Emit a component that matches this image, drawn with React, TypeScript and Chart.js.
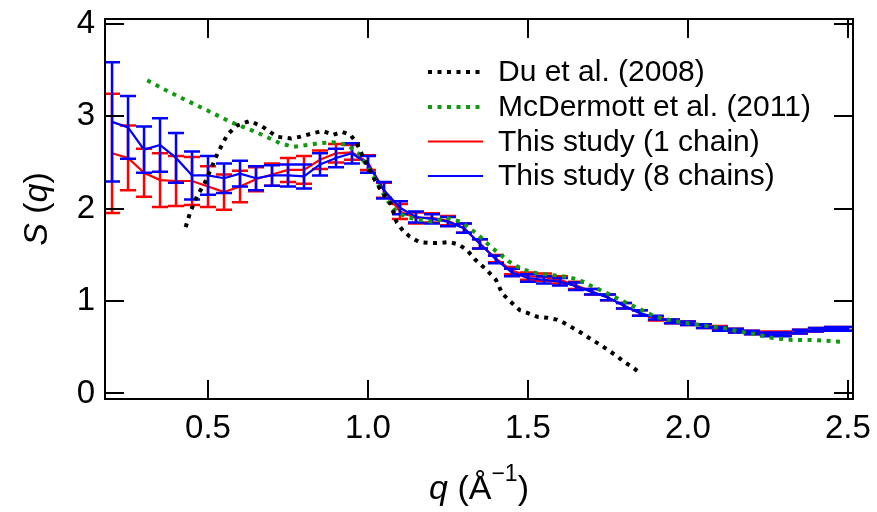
import React, { useEffect, useRef } from "react";
import { Chart, registerables } from "chart.js";

Chart.register(...registerables);

const FONT = '"Liberation Sans", Arial, sans-serif';

// Du et al. (2008)
const duQ = [0.43, 0.445, 0.465, 0.49, 0.53, 0.56, 0.59, 0.63, 0.67, 0.715, 0.76, 0.79, 0.83, 0.86, 0.89, 0.92, 0.945, 0.965, 0.99, 1.015, 1.04, 1.07, 1.09, 1.11, 1.13, 1.16, 1.19, 1.225, 1.255, 1.285, 1.31, 1.335, 1.37, 1.40, 1.42, 1.45, 1.475, 1.50, 1.53, 1.56, 1.59, 1.615, 1.64, 1.67, 1.70, 1.725, 1.75, 1.78, 1.80, 1.825, 1.85];
const duS = [1.80, 1.97, 2.13, 2.28, 2.60, 2.80, 2.90, 2.95, 2.89, 2.78, 2.76, 2.78, 2.82, 2.84, 2.80, 2.83, 2.80, 2.71, 2.52, 2.35, 2.20, 2.06, 1.85, 1.76, 1.70, 1.64, 1.63, 1.63, 1.64, 1.61, 1.55, 1.45, 1.34, 1.23, 1.08, 0.98, 0.90, 0.87, 0.83, 0.82, 0.80, 0.76, 0.71, 0.65, 0.58, 0.53, 0.47, 0.40, 0.34, 0.29, 0.22];

// McDermott et al. (2011)
const mcQ = [0.31, 0.37, 0.44, 0.50, 0.57, 0.65, 0.725, 0.765, 0.81, 0.85, 0.89, 0.935, 0.97, 1.00, 1.03, 1.06, 1.085, 1.12, 1.16, 1.20, 1.245, 1.29, 1.34, 1.39, 1.44, 1.485, 1.53, 1.58, 1.625, 1.66, 1.70, 1.745, 1.79, 1.845, 1.90, 1.95, 2.00, 2.06, 2.11, 2.16, 2.215, 2.265, 2.325, 2.38, 2.43, 2.48];
const mcS = [3.39, 3.28, 3.16, 3.06, 2.94, 2.83, 2.71, 2.67, 2.69, 2.71, 2.72, 2.69, 2.60, 2.45, 2.27, 2.09, 1.98, 1.91, 1.88, 1.86, 1.90, 1.86, 1.73, 1.57, 1.43, 1.34, 1.30, 1.28, 1.26, 1.23, 1.16, 1.09, 1.01, 0.92, 0.83, 0.79, 0.76, 0.73, 0.71, 0.67, 0.64, 0.60, 0.58, 0.58, 0.57, 0.56];

// This study
const studyQ = [0.20, 0.25, 0.30, 0.35, 0.40, 0.45, 0.50, 0.55, 0.60, 0.65, 0.70, 0.75, 0.80, 0.85, 0.90, 0.95, 1.00, 1.05, 1.10, 1.15, 1.20, 1.25, 1.30, 1.35, 1.40, 1.45, 1.50, 1.55, 1.60, 1.65, 1.70, 1.75, 1.80, 1.85, 1.90, 1.95, 2.00, 2.05, 2.10, 2.15, 2.20, 2.25, 2.30, 2.35, 2.40, 2.45, 2.50];
const oneChainS = [2.60, 2.55, 2.39, 2.31, 2.30, 2.30, 2.24, 2.18, 2.24, 2.32, 2.37, 2.42, 2.42, 2.53, 2.60, 2.61, 2.50, 2.20, 1.97, 1.90, 1.90, 1.87, 1.79, 1.62, 1.46, 1.33, 1.27, 1.26, 1.23, 1.17, 1.10, 1.04, 0.95, 0.87, 0.81, 0.78, 0.76, 0.73, 0.71, 0.68, 0.66, 0.65, 0.65, 0.67, 0.69, 0.70, 0.70];
const oneChainErr = [0.645, 0.35, 0.26, 0.29, 0.27, 0.26, 0.22, 0.19, 0.17, 0.13, 0.12, 0.13, 0.15, 0.10, 0.10, 0.08, 0.08, 0.08, 0.08, 0.06, 0.05, 0.05, 0.05, 0.05, 0.04, 0.04, 0.04, 0.04, 0.04, 0.04, 0.03, 0.03, 0.03, 0.03, 0.02, 0.02, 0.02, 0.02, 0.02, 0.02, 0.02, 0.02, 0.02, 0.02, 0.02, 0.02, 0.02];
const eightChainS = [2.94, 2.88, 2.64, 2.69, 2.55, 2.36, 2.36, 2.33, 2.38, 2.33, 2.36, 2.36, 2.35, 2.48, 2.55, 2.60, 2.48, 2.20, 2.01, 1.91, 1.89, 1.86, 1.79, 1.62, 1.45, 1.31, 1.25, 1.23, 1.21, 1.16, 1.10, 1.04, 0.95, 0.87, 0.82, 0.78, 0.76, 0.73, 0.70, 0.68, 0.66, 0.64, 0.64, 0.67, 0.69, 0.70, 0.70];
const eightChainErr = [0.645, 0.34, 0.25, 0.29, 0.27, 0.26, 0.21, 0.16, 0.14, 0.13, 0.11, 0.12, 0.13, 0.12, 0.10, 0.11, 0.09, 0.09, 0.07, 0.06, 0.05, 0.05, 0.05, 0.05, 0.04, 0.04, 0.04, 0.04, 0.04, 0.04, 0.03, 0.03, 0.03, 0.03, 0.02, 0.02, 0.02, 0.02, 0.02, 0.02, 0.02, 0.02, 0.02, 0.02, 0.02, 0.02, 0.02];

const xTicks = [0.5, 1.0, 1.5, 2.0, 2.5];
const yTicks = [0, 1, 2, 3, 4];
const legendLabels = ["Du et al. (2008)", "McDermott et al. (2011)", "This study (1 chain)", "This study (8 chains)"];
const seriesColors = ["#000000", "#119911", "#ff0000", "#0000ff"];

const toPoints = (xs: number[], ys: number[]) => xs.map((x, i) => ({ x, y: ys[i] }));

const errorBarPlugin = {
  id: "errorBars",
  afterDatasetDraw(chart: any, args: any) {
    const ds = chart.data.datasets[args.index] as any;
    if (!ds.errors) return;
    const { ctx, scales, chartArea } = chart;
    const xs = scales.x, ys = scales.y;
    ctx.save();
    ctx.beginPath();
    ctx.rect(chartArea.left, chartArea.top, chartArea.right - chartArea.left, chartArea.bottom - chartArea.top);
    ctx.clip();
    ctx.strokeStyle = ds.borderColor;
    ctx.lineWidth = 2.5;
    const cap = 8;
    ctx.beginPath();
    ds.data.forEach((p: any, i: number) => {
      const e = ds.errors[i];
      const px = xs.getPixelForValue(p.x);
      const top = ys.getPixelForValue(p.y + e);
      const bot = ys.getPixelForValue(p.y - e);
      ctx.moveTo(px, top); ctx.lineTo(px, bot);
      ctx.moveTo(px - cap, top); ctx.lineTo(px + cap, top);
      ctx.moveTo(px - cap, bot); ctx.lineTo(px + cap, bot);
    });
    ctx.stroke();
    ctx.restore();
  },
};

const framePlugin = {
  id: "frameAndText",
  afterDraw(chart: any) {
    const { ctx, chartArea: a, scales } = chart;
    const xs = scales.x, ys = scales.y;
    ctx.save();
    ctx.strokeStyle = "#000";
    ctx.lineWidth = 2;
    ctx.strokeRect(a.left, a.top, a.right - a.left, a.bottom - a.top);
    const L = 19;
    ctx.beginPath();
    xTicks.forEach((v) => {
      const px = Math.round(xs.getPixelForValue(v));
      ctx.moveTo(px, a.bottom); ctx.lineTo(px, a.bottom - L);
      ctx.moveTo(px, a.top); ctx.lineTo(px, a.top + L);
    });
    yTicks.forEach((v) => {
      const py = Math.round(ys.getPixelForValue(v));
      ctx.moveTo(a.left, py); ctx.lineTo(a.left + L, py);
      ctx.moveTo(a.right, py); ctx.lineTo(a.right - L, py);
    });
    ctx.stroke();

    // Legend
    const ds = chart.data.datasets;
    const lx0 = 428, lx1 = 483, tx = 498;
    const rowY = [72, 107, 141.5, 176];
    ctx.font = `30px ${FONT}`;
    ctx.textBaseline = "middle";
    ctx.textAlign = "left";
    ctx.fillStyle = "#000";
    legendLabels.forEach((lab, i) => {
      const d = ds.find((s: any) => s.label === lab);
      const y = rowY[i];
      ctx.save();
      ctx.strokeStyle = d.borderColor;
      ctx.lineWidth = d.borderDash && d.borderDash.length ? 4 : 2;
      ctx.setLineDash(d.borderDash || []);
      ctx.beginPath();
      ctx.moveTo(lx0, y); ctx.lineTo(lx1, y);
      ctx.stroke();
      ctx.restore();
      ctx.fillText(lab, tx, y + 1);
    });

    const drawParts = (parts: { t: string; f: string; dy?: number }[], cx: number, baseY: number) => {
      let w = 0;
      parts.forEach((p) => { ctx.font = p.f; w += ctx.measureText(p.t).width; });
      let x = cx - w / 2;
      ctx.textAlign = "left";
      ctx.textBaseline = "alphabetic";
      parts.forEach((p) => {
        ctx.font = p.f;
        ctx.fillText(p.t, x, baseY + (p.dy || 0));
        x += ctx.measureText(p.t).width;
      });
    };
    const n = `34px ${FONT}`, it = `italic 34px ${FONT}`, sm = `23px ${FONT}`;
    ctx.save();
    ctx.translate(47, (a.top + a.bottom) / 2);
    ctx.rotate(-Math.PI / 2);
    drawParts([{ t: "S", f: it }, { t: " (", f: n }, { t: "q", f: it }, { t: ")", f: n }], 0, 0);
    ctx.restore();

    drawParts([
      { t: "q", f: it }, { t: " (", f: n }, { t: "Å", f: n }, { t: "−1", f: sm, dy: -18 }, { t: ")", f: n },
    ], (a.left + a.right) / 2, 499);
    ctx.restore();
  },
};

export default function App() {
  const ref = useRef<HTMLCanvasElement | null>(null);
  useEffect(() => {
    if (!ref.current) return;
    const chart = new Chart(ref.current, {
      type: "line",
      data: {
        datasets: [
          {
            label: legendLabels[0], data: toPoints(duQ, duS), borderColor: seriesColors[0],
            borderWidth: 4, borderDash: [4, 5.5], pointRadius: 0, fill: false, order: 0, tension: 0,
          },
          {
            label: legendLabels[1], data: toPoints(mcQ, mcS), borderColor: seriesColors[1],
            borderWidth: 4, borderDash: [4, 5.5], pointRadius: 0, fill: false, order: 0, tension: 0,
          },
          {
            label: legendLabels[3], data: toPoints(studyQ, eightChainS), borderColor: seriesColors[3],
            borderWidth: 2.2, pointRadius: 0, fill: false, order: 1, tension: 0, errors: eightChainErr,
          } as any,
          {
            label: legendLabels[2], data: toPoints(studyQ, oneChainS), borderColor: seriesColors[2],
            borderWidth: 2.2, pointRadius: 0, fill: false, order: 2, tension: 0, errors: oneChainErr,
          } as any,
        ],
      },
      options: {
        animation: false,
        responsive: false,
        devicePixelRatio: 1,
        layout: { padding: { left: 0, right: 24, top: 19, bottom: 0 } },
        plugins: { legend: { display: false }, title: { display: false }, tooltip: { enabled: false } },
        scales: {
          x: {
            type: "linear", min: 0.178, max: 2.516,
            afterBuildTicks: (s: any) => { s.ticks = xTicks.map((v) => ({ value: v })); },
            afterFit: (s: any) => { s.height = 113; s.paddingLeft = 0; s.paddingRight = 0; },
            ticks: {
              callback: (v: any) => Number(v).toFixed(1), color: "#000",
              font: { family: FONT, size: 33 }, padding: 10, maxRotation: 0, autoSkip: false,
            },
            grid: { display: false, drawTicks: false },
            border: { display: false },
          },
          y: {
            type: "linear", min: -0.06, max: 4.054,
            afterBuildTicks: (s: any) => { s.ticks = yTicks.map((v) => ({ value: v })); },
            afterFit: (s: any) => { s.width = 105; s.paddingTop = 0; s.paddingBottom = 0; },
            ticks: {
              callback: (v: any) => String(v), color: "#000",
              font: { family: FONT, size: 33 }, padding: 10, autoSkip: false,
            },
            grid: { display: false, drawTicks: false },
            border: { display: false },
          },
        },
      },
      plugins: [errorBarPlugin, framePlugin],
    });
    return () => chart.destroy();
  }, []);
  return (
    <div style={{ position: "absolute", left: 0, top: 0, width: 877, height: 512, background: "#fff" }}>
      <canvas ref={ref} width={877} height={512} style={{ width: 877, height: 512, display: "block" }} />
    </div>
  );
}
